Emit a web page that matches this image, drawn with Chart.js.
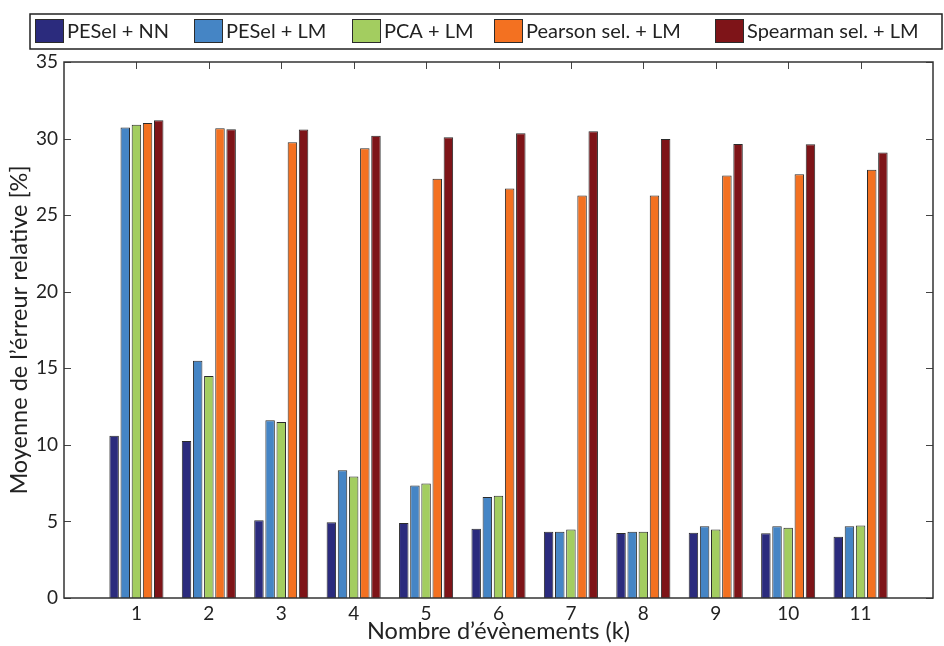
<!DOCTYPE html>
<html>
<head>
<meta charset="utf-8">
<script src="https://cdn.jsdelivr.net/npm/chart.js@4.4.0/dist/chart.umd.min.js"></script>
<style>
    html, body { margin: 0; padding: 0; background: #fff; }
    #wrap { width: 944px; height: 646px; }
</style>
</head>
<body>
<div id="wrap"><canvas id="chart" width="944" height="646"></canvas></div>
<script>
// valeurs
const categories = [1, 2, 3, 4, 5, 6, 7, 8, 9, 10, 11];
const peselNN    = [10.60, 10.25, 5.07, 4.94, 4.89, 4.52, 4.33, 4.24, 4.26, 4.22, 4.00];
const peselLM    = [30.72, 15.49, 11.60, 8.35, 7.35, 6.59, 4.33, 4.33, 4.68, 4.68, 4.68];
const pcaLM      = [30.91, 14.49, 11.49, 7.94, 7.48, 6.68, 4.48, 4.33, 4.48, 4.59, 4.74];
const pearsonLM  = [31.02, 30.68, 29.76, 29.37, 27.37, 26.74, 26.28, 26.28, 27.59, 27.67, 27.96];
const spearmanLM = [31.20, 30.61, 30.59, 30.18, 30.09, 30.35, 30.48, 29.98, 29.65, 29.63, 29.09];
const yTicks = [0, 5, 10, 15, 20, 25, 30, 35];

Chart.defaults.font.family = 'Lato, "Open Sans", sans-serif';
Chart.defaults.color = '#222';

function toPoints(values) {
    return categories.map((k, i) => ({ x: k, y: values[i] }));
}

function makeSet(label, values, color) {
    return {
        label: label,
        data: toPoints(values),
        backgroundColor: color,
        borderColor: '#2b2b2b',
        borderWidth: 1,
        categoryPercentage: 0.77,
        barPercentage: 0.85
    };
}

// légende maison dans une boîte, sur une seule ligne
const legendBoxPlugin = {
    id: 'legendBox',
    afterDraw(chart) {
        const ctx = chart.ctx;
        const swatchX = [35, 194, 352, 494, 715];
        ctx.save();
        ctx.lineWidth = 1.5;
        ctx.strokeStyle = '#222';
        ctx.strokeRect(30, 14, 912, 35);
        ctx.font = '20px Lato, "Open Sans", sans-serif';
        ctx.textBaseline = 'middle';
        ctx.fillStyle = '#222';
        chart.data.datasets.forEach((ds, i) => {
            const x = swatchX[i];
            ctx.fillStyle = ds.backgroundColor;
            ctx.fillRect(x, 19, 29, 24);
            ctx.lineWidth = 1;
            ctx.strokeStyle = '#2b2b2b';
            ctx.strokeRect(x + 0.5, 19.5, 28, 23);
            ctx.fillStyle = '#222';
            ctx.fillText(ds.label, x + 32, 32);
        });
        ctx.restore();
    }
};

// cadre et petites graduations vers l'intérieur
const framePlugin = {
    id: 'frame',
    beforeDatasetsDraw(chart) {
        const ctx = chart.ctx;
        const a = chart.chartArea;
        const xs = chart.scales.x, ys = chart.scales.y;
        const len = 7;
        ctx.save();
        ctx.strokeStyle = '#444';
        ctx.lineWidth = 1;
        ctx.beginPath();
        yTicks.forEach(v => {
            const y = Math.round(ys.getPixelForValue(v)) + 0.5;
            ctx.moveTo(a.left, y); ctx.lineTo(a.left + len, y);
            ctx.moveTo(a.right, y); ctx.lineTo(a.right - len, y);
        });
        categories.forEach(k => {
            const x = Math.round(xs.getPixelForValue(k)) + 0.5;
            ctx.moveTo(x, a.top); ctx.lineTo(x, a.top + len);
            ctx.moveTo(x, a.bottom); ctx.lineTo(x, a.bottom - len);
        });
        ctx.stroke();
        ctx.restore();
    },
    afterDraw(chart) {
        const ctx = chart.ctx;
        const a = chart.chartArea;
        ctx.save();
        ctx.strokeStyle = '#333';
        ctx.lineWidth = 1.5;
        ctx.strokeRect(a.left, a.top, a.right - a.left, a.bottom - a.top);
        ctx.restore();
    }
};

const ctx = document.getElementById('chart').getContext('2d');

const myChart = new Chart(ctx, {
    type: 'bar',
    data: {
        datasets: [
            makeSet('PESel + NN', peselNN, '#2b2b7d'),
            makeSet('PESel + LM', peselLM, '#4585c5'),
            makeSet('PCA + LM', pcaLM, '#a3cd60'),
            makeSet('Pearson sel. + LM', pearsonLM, '#f37121'),
            makeSet('Spearman sel. + LM', spearmanLM, '#7e1418')
        ]
    },
    options: {
        responsive: false,
        animation: false,
        layout: {
            padding: { top: 62, right: 11, bottom: 0, left: 0 }
        },
        plugins: {
            legend: { display: false },
            tooltip: { enabled: false }
        },
        scales: {
            x: {
                type: 'linear',
                min: 0,
                max: 12,
                offset: false,
                grid: { display: false, drawTicks: false },
                border: { display: false },
                ticks: {
                    stepSize: 1,
                    autoSkip: false,
                    maxRotation: 0,
                    padding: 4,
                    font: { size: 19 },
                    callback: function(v) {
                        return (v >= 1 && v <= 11) ? String(v) : '';
                    }
                },
                title: {
                    display: true,
                    text: 'Nombre d\u2019évènements (k)',
                    font: { size: 23.5 },
                    padding: { top: 0, bottom: 0 }
                },
                afterFit: function(scale) { scale.height = 48; }
            },
            y: {
                min: 0,
                max: 35,
                grid: { display: false, drawTicks: false },
                border: { display: false },
                ticks: {
                    stepSize: 5,
                    padding: 6,
                    font: { size: 19 }
                },
                title: {
                    display: true,
                    text: 'Moyenne de l\u2019érreur relative [%]',
                    font: { size: 23.5 },
                    padding: { top: 5, bottom: 0 }
                },
                afterFit: function(scale) { scale.width = 64; }
            }
        }
    },
    plugins: [framePlugin, legendBoxPlugin]
});
</script>
</body>
</html>
